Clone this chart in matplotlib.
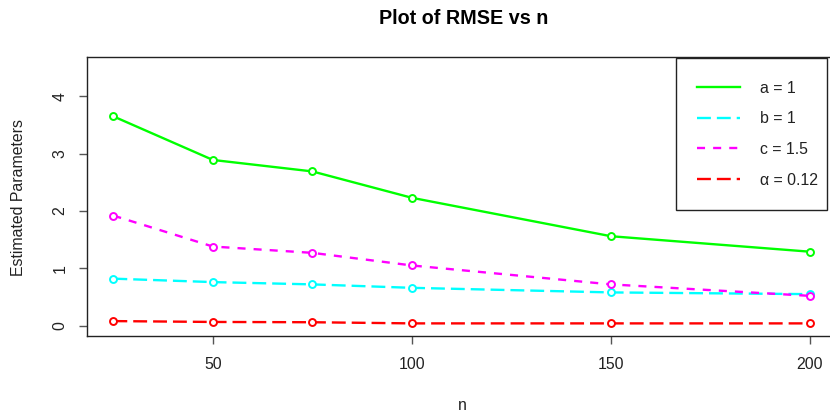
import matplotlib
matplotlib.use("Agg")
import matplotlib.pyplot as plt
from matplotlib.patches import Rectangle

plt.rcParams['font.family'] = ['Liberation Sans', 'DejaVu Sans']
plt.rcParams['lines.scale_dashes'] = False

n = [25, 50, 75, 100, 150, 200]
a_vals = [3.65, 2.89, 2.69, 2.23, 1.56, 1.29]
b_vals = [0.82, 0.76, 0.72, 0.66, 0.58, 0.55]
c_vals = [1.92, 1.38, 1.27, 1.05, 0.72, 0.52]
alpha_vals = [0.08, 0.065, 0.06, 0.04, 0.04, 0.04]
labels = ["a = 1", "b = 1", "c = 1.5", "α = 0.12"]
colors = ["#00FF00", "#00FFFF", "#FF00FF", "#FF0000"]
xticks = [50, 100, 150, 200]
yticks = [0, 1, 2, 3, 4]

W, H = 830, 419
fig = plt.figure(figsize=(W / 100, H / 100), dpi=100)
L, R, T, B = 86.7, 839.0, 57.3, 336.0
ax = fig.add_axes([L / W, (H - B) / H, (R - L) / W, (B - T) / H])
ax.patch.set_visible(False)

long_dash = (0, (10.0, 4.3))
short_dash = (0, (5.8, 5.8))
styles = ['-', long_dash, short_dash, long_dash]
series = [a_vals, b_vals, c_vals, alpha_vals]
for vals, col, ls, lab in zip(series, colors, styles, labels):
    ax.plot(n, vals, color=col, linestyle=ls, lw=1.7, marker='o',
            markersize=5.0, markerfacecolor='white', markeredgewidth=1.4,
            label=lab, clip_on=False)

ax.set_xlim(18.3, 207.3)
ax.set_ylim(-0.18, 4.68)
ax.set_xticks(xticks)
ax.set_yticks(yticks)
ax.set_xticklabels([str(v) for v in xticks])
ax.set_yticklabels([str(v) for v in yticks], rotation=90, va='center')
ax.tick_params(axis='both', labelsize=11.4, length=6, width=1.0, color='#555555', labelcolor='#222222')
ax.tick_params(axis='x', pad=9)
ax.tick_params(axis='y', pad=8)
for s in ax.spines.values():
    s.set_color('#222222')
    s.set_linewidth(1.0)
ax.spines['right'].set_visible(False)

fig.text(464 / W, 1 - 19 / H, "Plot of RMSE vs n", ha='center', va='center',
         fontsize=14.2, fontweight='bold')
fig.text(462 / W, 1 - 405 / H, "n", ha='center', va='center', fontsize=11.4, color='#222222')
fig.text(19 / W, 1 - 197 / H, "Estimated Parameters", ha='center', va='center',
         rotation=90, fontsize=11.4, color='#222222')

# legend frame
fig.patches.append(Rectangle((676 / W, (H - 210) / H), 151 / W, 152 / H,
                             transform=fig.transFigure, fill=False,
                             edgecolor='#222222', lw=1.0))
leg_handles = []
for col, ls, lab in zip(colors, styles, labels):
    h, = ax.plot([], [], color=col, linestyle=ls, lw=1.7, label=lab)
    leg_handles.append(h)
leg = fig.legend(handles=leg_handles, loc='upper left',
                 bbox_to_anchor=(684 / W, 1 - 68 / H), frameon=False,
                 fontsize=11.4, handlelength=2.75, handletextpad=1.25,
                 labelspacing=0.99, borderpad=0.3)
for t in leg.get_texts():
    t.set_color('#222222')

fig.savefig("out.png", dpi=100)
